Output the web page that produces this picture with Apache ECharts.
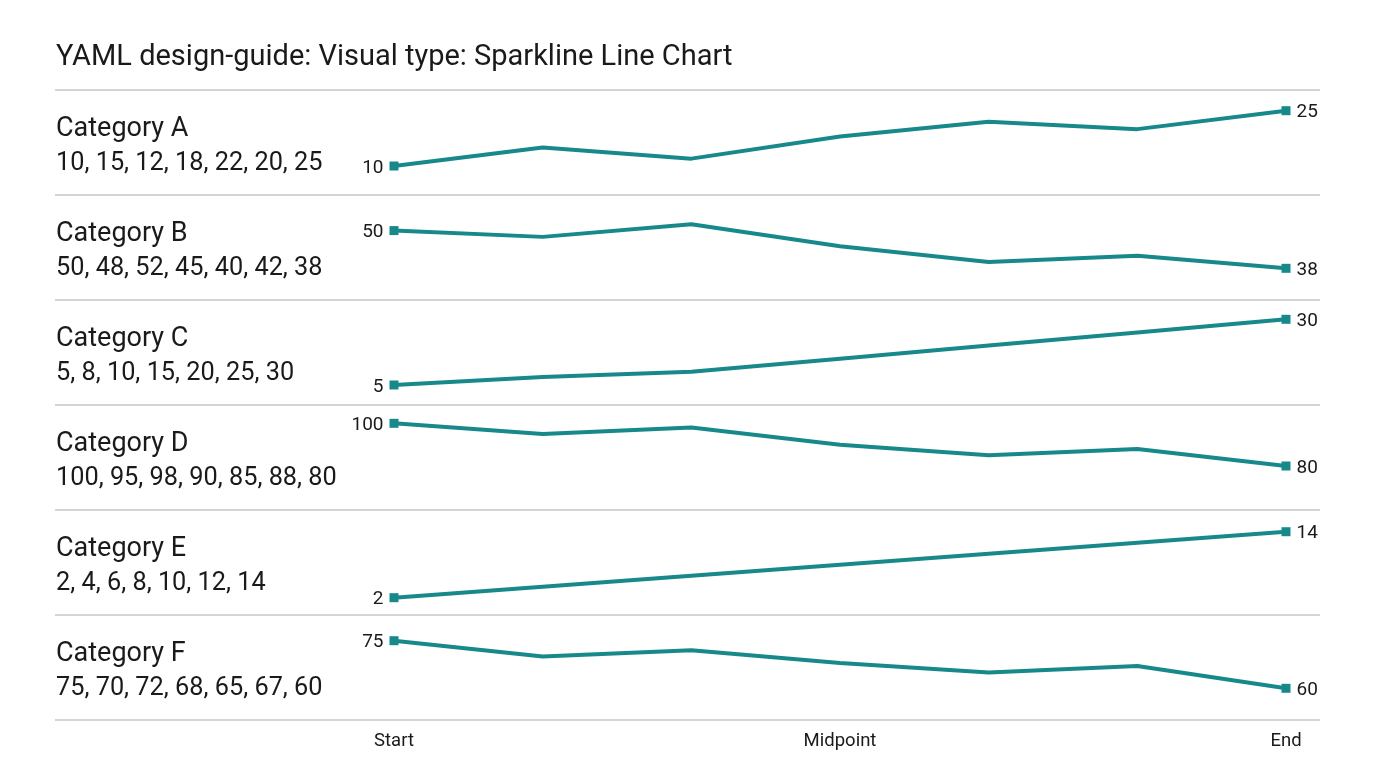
<!DOCTYPE html>
<html>
<head>
<meta charset="utf-8">
<script src="https://cdn.jsdelivr.net/npm/echarts@6/dist/echarts.min.js"></script>
<style>
html,body{margin:0;padding:0;background:#fff;}
#main{width:1376px;height:768px;}
</style>
</head>
<body>
<div id="main"></div>
<script>
// ---- data ----
const chartTitle = 'YAML design-guide: Visual type: Sparkline Line Chart';
const categories = ['Category A', 'Category B', 'Category C', 'Category D', 'Category E', 'Category F'];
const valuesA = [10, 15, 12, 18, 22, 20, 25];
const valuesB = [50, 48, 52, 45, 40, 42, 38];
const valuesC = [5, 8, 10, 15, 20, 25, 30];
const valuesD = [100, 95, 98, 90, 85, 88, 80];
const valuesE = [2, 4, 6, 8, 10, 12, 14];
const valuesF = [75, 70, 72, 68, 65, 67, 60];
const xTickLabels = ['Start', '', '', 'Midpoint', '', '', 'End'];
// per-row y scale domains
const yMin = [4.85, 31.1, 1.19, 64.07, 0.67, 53.16];
const yMax = [27.9, 58.14, 33.54, 103.89, 16.13, 79.95];

const allValues = [valuesA, valuesB, valuesC, valuesD, valuesE, valuesF];

// ---- layout ----
const rowTop0 = 90, rowH = 105;
const lineColor = '#17898a';
const textColor = '#1a1a1a';
const fontFam = 'Roboto, "Noto Sans", sans-serif';

const grids = [], xAxes = [], yAxes = [], series = [], graphics = [];

graphics.push({
  type: 'text', x: 56, y: 58,
  style: { text: chartTitle, fill: textColor, font: '29px ' + fontFam, verticalAlign: 'middle' }
});

for (let i = 0; i <= categories.length; i++) {
  const y = rowTop0 + i * rowH;
  graphics.push({
    type: 'line', silent: true,
    shape: { x1: 55, y1: y, x2: 1320, y2: y },
    style: { stroke: '#c6c6c6', lineWidth: 1.5 }
  });
}

categories.forEach((cat, i) => {
  const top = rowTop0 + i * rowH;
  const vals = allValues[i];
  graphics.push({
    type: 'text', x: 56, y: top + 39.5,
    style: { text: cat, fill: textColor, font: '27px ' + fontFam, verticalAlign: 'middle' }
  });
  graphics.push({
    type: 'text', x: 56, y: top + 74,
    style: { text: vals.join(', '), fill: textColor, font: '25.3px ' + fontFam, verticalAlign: 'middle' }
  });

  grids.push({ left: 394, right: 90, top: top + 10, height: 85 });
  const isLast = i === categories.length - 1;
  xAxes.push({
    type: 'category', gridIndex: i, data: xTickLabels, boundaryGap: false,
    axisLine: { show: false }, axisTick: { show: false }, splitLine: { show: false },
    axisLabel: {
      show: isLast, interval: 0, margin: 22,
      fontSize: 18.5, color: textColor, fontFamily: fontFam
    }
  });
  yAxes.push({
    type: 'value', gridIndex: i, min: yMin[i], max: yMax[i], show: false,
    splitLine: { show: false }
  });
  const data = vals.map((v, j) => {
    const first = j === 0, last = j === vals.length - 1;
    if (first || last) {
      return {
        value: v, symbol: 'rect', symbolSize: 9,
        label: { show: true, position: first ? 'left' : 'right', distance: 6,
                 offset: [0, 2],
                 fontSize: 19, color: textColor, fontFamily: fontFam }
      };
    }
    return { value: v, symbolSize: 0, label: { show: false } };
  });
  series.push({
    type: 'line', xAxisIndex: i, yAxisIndex: i, data: data,
    showAllSymbol: true, animation: false,
    lineStyle: { color: lineColor, width: 4 },
    itemStyle: { color: lineColor },
    emphasis: { disabled: true }
  });
});

const chart = echarts.init(document.getElementById('main'));
chart.setOption({
  backgroundColor: '#fff',
  animation: false,
  grid: grids, xAxis: xAxes, yAxis: yAxes, series: series,
  graphic: graphics
});
</script>
</body>
</html>
